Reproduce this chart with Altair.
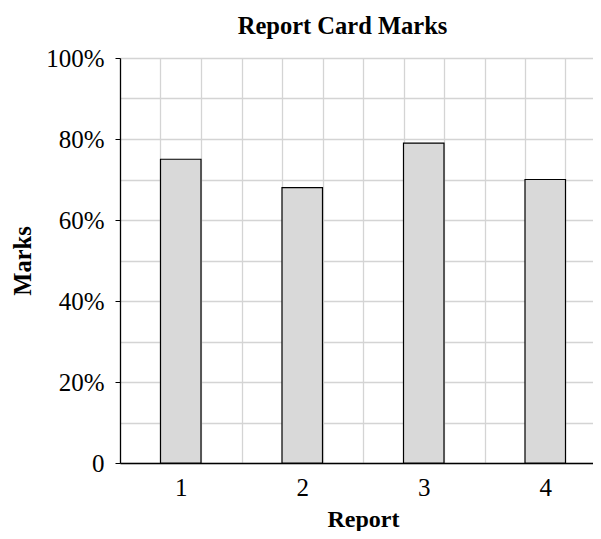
import altair as alt
import pandas as pd

reports = [1, 2, 3, 4]
marks = [75, 68, 79, 70]

# grid positions: band edges and bar edges (thirds of each category step)
x_grid = [0.5 + k / 3 for k in range(1, 13)]
y_ticks = list(range(0, 101, 10))

df = pd.DataFrame({"report": reports, "marks": marks})

FONT = "Liberation Serif"
FS = 25

x_axis = alt.Axis(
    values=x_grid + reports,
    labelExpr="datum.value % 1 == 0 ? datum.value : ''",
    labelOverlap=False,
    labelFlush=False,
    labelFont=FONT,
    labelFontSize=FS,
    labelColor="#000000",
    labelPadding=12,
    ticks=False,
    grid=True,
    gridColor="#d4d4d4",
    gridWidth=1.3,
    gridOpacity={"condition": {"test": "datum.value % 1 == 0", "value": 0}, "value": 1},
    domainColor="#000000",
    domainWidth=1.3,
    title="Report",
    titleFont=FONT,
    titleFontSize=24,
    titleFontWeight="bold",
    titleColor="#000000",
    titlePadding=7,
)

y_axis = alt.Axis(
    values=y_ticks,
    labelExpr="datum.value == 0 ? '0' : (datum.value % 20 == 0 ? datum.value + '%' : '')",
    labelOverlap=False,
    labelFlush=False,
    labelFont=FONT,
    labelFontSize=FS,
    labelColor="#000000",
    labelPadding=11,
    tickSize=5,
    tickColor="#000000",
    tickOpacity={"condition": {"test": "datum.value % 20 == 0", "value": 1}, "value": 0},
    grid=True,
    gridColor="#d4d4d4",
    gridWidth=1.3,
    domainColor="#000000",
    domainWidth=1.3,
    title="Marks",
    titleFont=FONT,
    titleFontSize=24.5,
    titleFontWeight="bold",
    titleColor="#000000",
    titlePadding=10,
)

chart = (
    alt.Chart(df)
    .transform_calculate(x0="datum.report - 1/6", x1="datum.report + 1/6")
    .mark_bar(fill="#d9d9d9", stroke="#000000", strokeWidth=1.2)
    .encode(
        x=alt.X("x0:Q", scale=alt.Scale(domain=[0.5, 4.5], range=[0, 486], nice=False, zero=False), axis=x_axis),
        x2="x1:Q",
        y=alt.Y("marks:Q", scale=alt.Scale(domain=[0, 100], nice=False), axis=y_axis),
        y2=alt.datum(0),
    )
    .properties(
        width=473,
        height=405,
        title=alt.TitleParams(
            "Report Card Marks",
            font=FONT,
            fontSize=24.5,
            fontWeight="bold",
            color="#000000",
            anchor="middle",
            dx=-14,
            offset=7,
        ),
        autosize=alt.AutoSizeParams(type="none"),
        padding={"left": 112, "top": 50, "right": 0, "bottom": 68},
    )
    .configure_view(stroke=None)
    .configure(background="white")
)

chart.save("out.html", embed_options={"renderer": "svg", "actions": False})
